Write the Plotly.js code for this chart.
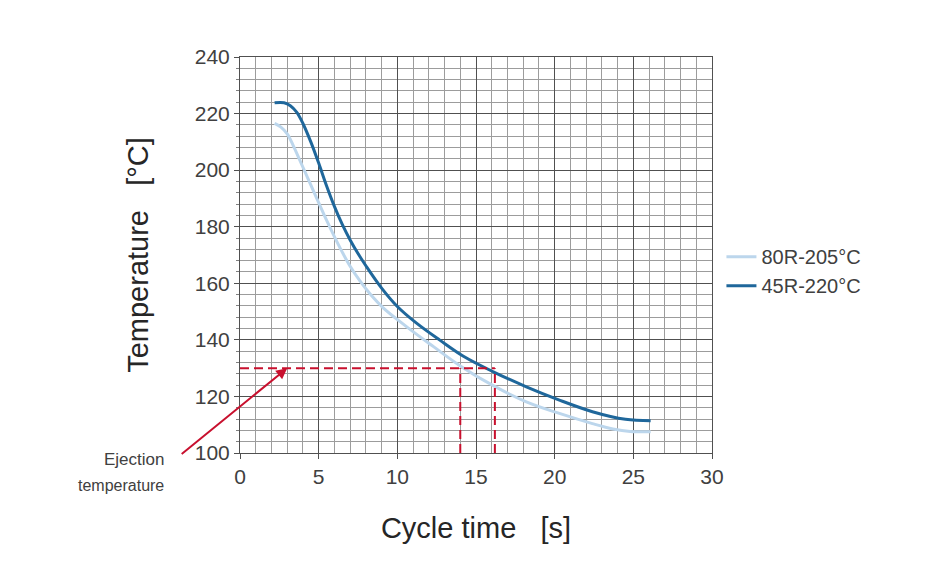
<!DOCTYPE html>
<html>
<head>
<meta charset="utf-8">
<script src="https://cdn.plot.ly/plotly-3.0.1.min.js"></script>
<style>
  html, body { margin: 0; padding: 0; background: #fff; }
  #chart { width: 938px; height: 568px; }
</style>
</head>
<body>
<div id="chart"></div>
<script>
// ─── data ───
const lightName = "80R-205°C";
const lightX = [2.2, 2.6, 3.0, 3.4, 3.8, 4.3, 4.8, 5.5, 6.0, 6.5, 7.0, 7.6, 8.3, 9.1, 10.6, 12.3, 14.0, 16.1, 18.2, 20.3, 22.4, 23.7, 24.8, 26.1];
const lightY = [216.5, 215.2, 212.8, 208.5, 203.5, 197.3, 191.0, 182.3, 176.5, 171.0, 166.0, 161.0, 156.0, 151.3, 144.6, 137.6, 130.8, 123.8, 118.1, 114.0, 110.4, 108.5, 107.6, 107.5];

const darkName = "45R-220°C";
const darkX = [2.2, 2.8, 3.2, 3.6, 4.0, 4.5, 5.0, 5.5, 6.0, 6.5, 7.0, 7.5, 8.0, 9.0, 10.0, 11.2, 12.7, 14.2, 16.1, 18.2, 20.3, 22.4, 24.5, 26.1];
const darkY = [223.8, 223.8, 222.8, 220.5, 216.5, 210.0, 202.5, 194.5, 187.2, 180.8, 175.3, 170.5, 166.2, 158.3, 151.8, 146.0, 139.9, 134.2, 128.7, 123.4, 118.7, 114.6, 111.9, 111.4];

// ejection temperature and the two cycle times where the curves reach it
const ejectTemp = 130;
const ejectTimes = [14.0, 16.2];
const arrowTip = [3.0, 130];

const xTicks = [0, 5, 10, 15, 20, 25, 30];
const yTicks = [100, 120, 140, 160, 180, 200, 220, 240];

// ─── styling ───
const font = "Liberation Sans, Arial, sans-serif";
const textCol = "#404040";
const titleCol = "#262626";
const red = "#c8102e";
const nb = "\u00A0";

const lines = [
  {
    x: lightX, y: lightY, name: lightName,
    mode: "lines", line: { color: "#bcd6ec", width: 3, shape: "spline", smoothing: 1 },
  },
  {
    x: darkX, y: darkY, name: darkName,
    mode: "lines", line: { color: "#1f679b", width: 3, shape: "spline", smoothing: 1 },
  },
];

// dashed guide lines at the ejection temperature
const maxT = Math.max(...ejectTimes);
const dashLine = { color: red, width: 2, dash: "9px,5px" };
const shapes = [
  {
    type: "line", xref: "x", yref: "y",
    x0: 0, x1: maxT, y0: ejectTemp, y1: ejectTemp, line: dashLine,
  },
].concat(ejectTimes.map((t) => ({
  type: "line", xref: "x", yref: "y",
  x0: t, x1: t, y0: 100, y1: ejectTemp, line: dashLine,
})));

// page geometry (pixels)
const M = { l: 240, r: 226, t: 57, b: 115 };
const W = 938, H = 568;
const pw = W - M.l - M.r, ph = H - M.t - M.b;
const px2x = (p) => (p - M.l) / pw;
const px2y = (p) => (H - M.b - p) / ph;

const annotations = [
  {
    x: arrowTip[0], y: arrowTip[1], xref: "x", yref: "y",
    text: "", showarrow: true, arrowhead: 2, arrowsize: 1.1,
    arrowwidth: 2, arrowcolor: red, ax: -107, ay: 87,
  },
  {
    x: px2x(166), y: px2y(459), xref: "paper", yref: "paper", text: "Ejection",
    showarrow: false, xanchor: "right", yanchor: "middle",
    font: { family: font, size: 17, color: textCol },
  },
  {
    x: px2x(166), y: px2y(485), xref: "paper", yref: "paper", text: "temperature",
    showarrow: false, xanchor: "right", yanchor: "middle",
    font: { family: font, size: 16, color: textCol },
  },
];

const axisBase = {
  showline: true, mirror: true, linecolor: "#505050", linewidth: 1,
  showgrid: true, gridcolor: "#505050", gridwidth: 1,
  zeroline: false, ticks: "outside", ticklen: 5, tickcolor: "#505050",
  tickfont: { family: font, size: 21, color: textCol },
  fixedrange: true,
};

const layout = {
  width: W, height: H,
  margin: M,
  paper_bgcolor: "#fff", plot_bgcolor: "#fff",
  font: { family: font, color: textCol },
  xaxis: Object.assign({}, axisBase, {
    range: [0, 30], tickvals: xTicks,
    minor: { dtick: 1, showgrid: true, gridcolor: "#9c9c9c", gridwidth: 1 },
    title: { text: "Cycle time" + nb + nb + nb + "[s]", font: { family: font, size: 29, color: titleCol }, standoff: 30 },
  }),
  yaxis: Object.assign({}, axisBase, {
    range: [100, 240], tickvals: yTicks,
    minor: { dtick: 4, showgrid: true, gridcolor: "#9c9c9c", gridwidth: 1, ticks: "outside", ticklen: 3, tickcolor: "#808080" },
    title: { text: "Temperature" + nb + nb + nb + "[°C]", font: { family: font, size: 29, color: titleCol }, standoff: 37 },
  }),
  legend: {
    x: 1.02, xanchor: "left", y: 0.545, yanchor: "top",
    itemwidth: 30, bgcolor: "rgba(0,0,0,0)",
    font: { family: font, size: 20, color: textCol },
  },
  shapes,
  annotations,
};

Plotly.newPlot("chart", lines, layout, { displayModeBar: false, staticPlot: true });
</script>
</body>
</html>
